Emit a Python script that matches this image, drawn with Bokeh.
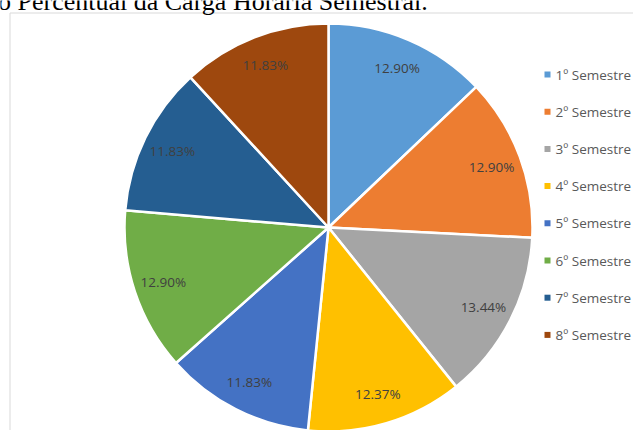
import math
from bokeh.plotting import figure
from bokeh.models import Range1d, ColumnDataSource
from bokeh.core.properties import value
from bokeh.embed import file_html
from bokeh.resources import INLINE

# ---- data ----
title_text = "o Percentual da Carga Horária Semestral."
categories = ["1º Semestre", "2º Semestre", "3º Semestre", "4º Semestre",
              "5º Semestre", "6º Semestre", "7º Semestre", "8º Semestre"]
percentages = [12.90, 12.90, 13.44, 12.37, 11.83, 12.90, 11.83, 11.83]
colors = ["#5B9BD5", "#ED7D31", "#A5A5A5", "#FFC000",
          "#4472C4", "#70AD47", "#255E91", "#9E480E"]

# ---- layout constants ----
W, H = 633, 430
cx, cy, r = 328, 203, 204
label_r = 174
font = "Open Sans"

total = sum(percentages)
starts, ends, lx, ly, labels = [], [], [], [], []
cum = 0.0
for v in percentages:
    a0 = cum / total * 2 * math.pi
    cum += v
    a1 = cum / total * 2 * math.pi
    starts.append(math.pi / 2 - a0)
    ends.append(math.pi / 2 - a1)
    mid = (a0 + a1) / 2
    lx.append(cx + label_r * math.sin(mid))
    ly.append(cy + label_r * math.cos(mid))
    labels.append(f"{v:.2f}%")

src = ColumnDataSource(dict(start=starts, end=ends, color=colors, lx=lx, ly=ly,
                            label=labels, cat=categories))

p = figure(width=W, height=H, x_range=Range1d(0, W), y_range=Range1d(0, H),
           output_backend="svg", toolbar_location=None, min_border=0,
           x_axis_location=None, y_axis_location=None)
p.grid.visible = False
p.outline_line_color = None
p.background_fill_color = "white"

# chart frame (left and top edges visible)
p.quad(left=[9.5], right=[W + 50], bottom=[-50], top=[H - 12.5],
       fill_color=None, line_color="#D9D9D9", line_width=1)

# title (cut off by the top of the page, as in the reference)
p.text(x=[-2.5], y=[H - 1], text=[title_text], text_font=value("Liberation Serif"),
       text_font_size="26px", text_color="black", text_baseline="alphabetic",
       text_align="left")

p.wedge(x=cx, y=cy, radius=r, start_angle="start", end_angle="end",
        direction="clock", fill_color="color", line_color="white",
        line_width=2.5, source=src)

p.text(x="lx", y="ly", text="label", source=src, text_font=value(font),
       text_font_size="13.5px", text_color="#404040", text_align="center",
       text_baseline="middle")

# legend
leg_y = [H - (74 + i * 37.2) for i in range(len(categories))]
leg_src = ColumnDataSource(dict(x=[547] * len(categories), tx=[555] * len(categories),
                                y=leg_y, color=colors, cat=categories))
p.scatter(x="x", y="y", marker="square", size=6, fill_color="color",
          line_color=None, source=leg_src)
p.text(x="tx", y="y", text="cat", source=leg_src, text_font=value(font),
       text_font_size="13.5px", text_color="#595959", text_align="left",
       text_baseline="middle")

open("out.html", "w").write(file_html(p, INLINE))
